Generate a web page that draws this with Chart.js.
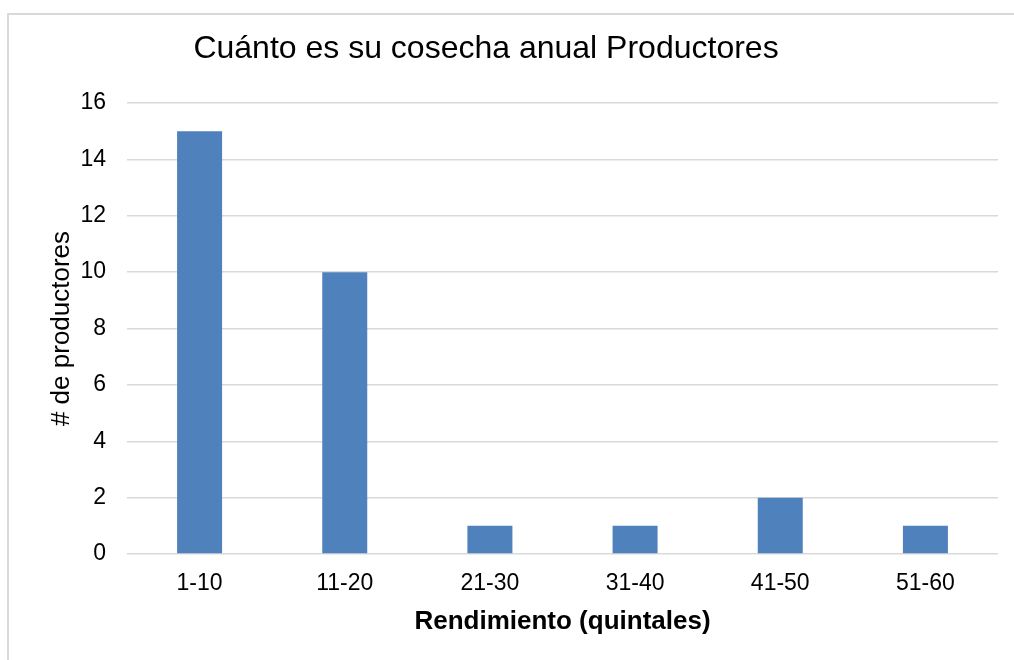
<!DOCTYPE html>
<html>
<head>
<meta charset="utf-8">
<script src="https://cdn.jsdelivr.net/npm/chart.js@4"></script>
<style>
  html, body { margin: 0; padding: 0; background: #fff; overflow: hidden; }
  #frame {
    position: absolute; left: 7px; top: 13px; width: 1100px; height: 700px;
    border-left: 2px solid #d9d9d9; border-top: 2px solid #d9d9d9;
  }
  #wrap { position: absolute; left: 0; top: 0; width: 1014px; height: 660px; }
</style>
</head>
<body>
<div id="frame"></div>
<div id="wrap"><canvas id="chart"></canvas></div>
<script>
// Cosecha anual por rango de rendimiento
const categories = ['1-10', '11-20', '21-30', '31-40', '41-50', '51-60'];
const producers = [15, 10, 1, 1, 2, 1];
const yTicks = [0, 2, 4, 6, 8, 10, 12, 14, 16];
const chartTitle = 'Cuánto es su cosecha anual Productores';

const FONT = 'Liberation Sans, Arial, sans-serif';
Chart.defaults.font.family = FONT;
Chart.defaults.color = '#000';

// title drawn a little left of the canvas centre, above the plot
const titlePlugin = {
  id: 'centredTitle',
  afterDraw(chart) {
    const c = chart.ctx;
    c.save();
    c.font = '32px ' + FONT;
    c.fillStyle = '#000';
    c.textAlign = 'center';
    c.textBaseline = 'middle';
    c.fillText(chartTitle, 486, 49);
    c.restore();
  },
};

const ctx = document.getElementById('chart').getContext('2d');
new Chart(ctx, {
  type: 'bar',
  data: {
    labels: categories,
    datasets: [{
      label: '# de productores',
      data: producers,
      backgroundColor: '#4F81BD',
      borderWidth: 0,
      barPercentage: 0.62,
      categoryPercentage: 0.5,
    }],
  },
  plugins: [titlePlugin],
  options: {
    responsive: true,
    maintainAspectRatio: false,
    animation: false,
    layout: { padding: { left: 0, right: 16, top: 103, bottom: 0 } },
    plugins: {
      legend: { display: false },
      tooltip: { enabled: false },
      title: { display: false },
    },
    scales: {
      x: {
        grid: { display: false, drawTicks: false },
        border: { display: false },
        ticks: { font: { size: 23 }, padding: 16 },
        title: {
          display: true,
          text: 'Rendimiento (quintales)',
          font: { size: 26, weight: 'bold' },
          padding: { top: 0, bottom: 23 },
        },
        afterFit(scale) { scale.height = 106; },
      },
      y: {
        min: 0,
        max: 16,
        afterBuildTicks(scale) { scale.ticks = yTicks.map(v => ({ value: v })); },
        grid: { color: '#d9d9d9', lineWidth: 1.5, drawTicks: false },
        border: { display: false },
        ticks: { font: { size: 23 }, padding: 21 },
        title: {
          display: true,
          text: '# de productores',
          font: { size: 26, weight: 'normal' },
          padding: { top: 46, bottom: 0 },
        },
        afterFit(scale) { scale.width = 127; },
      },
    },
  },
});
</script>
</body>
</html>
